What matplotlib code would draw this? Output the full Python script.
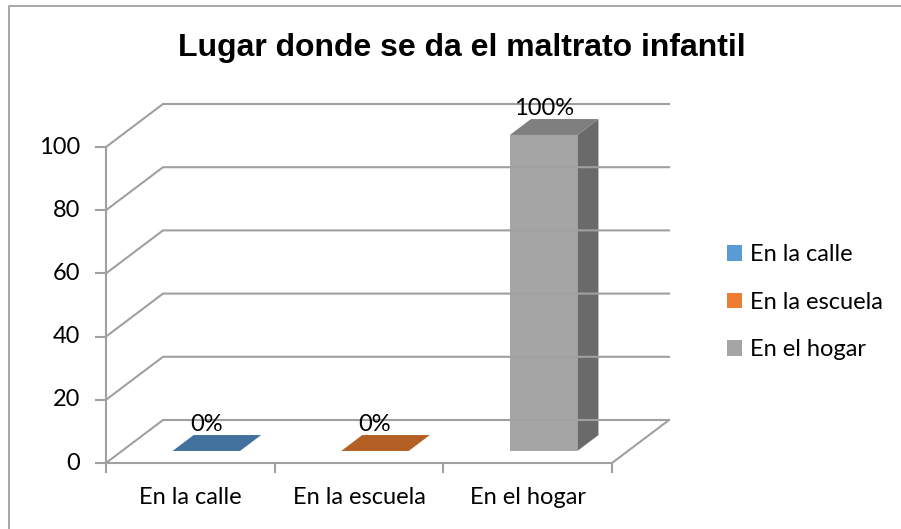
import matplotlib
matplotlib.use("Agg")
import matplotlib.pyplot as plt
from matplotlib.patches import Polygon, Patch
from matplotlib.lines import Line2D

# ---- data ----
categories = ["En la calle", "En la escuela", "En el hogar"]
values = [0, 0, 100]
labels = ["0%", "0%", "100%"]
yticks = [0, 20, 40, 60, 80, 100]
title = "Lugar donde se da el maltrato infantil"

# ---- style ----
front_cols = ["#5B9BD5", "#ED7D31", "#A5A5A5"]
top_cols = ["#41719C", "#B45F24", "#7F7F7F"]
side_cols = ["#3A6590", "#A0521E", "#6A6A6A"]
grid_col = "#A0A0A0"
FONT = "Lato"
FS = 17

W, H = 901, 529
fig = plt.figure(figsize=(W / 100, H / 100), dpi=100)
fig.patch.set_facecolor("white")

# border of chart area (only top and left edges are visible)
fig.add_artist(Line2D([8.5 / W, 8.5 / W, 1.0], [0.0, 1 - 5.5 / H, 1 - 5.5 / H], transform=fig.transFigure,
                      color="#A0A0A0", lw=1.3))

# front plane of the 3D box in pixels
x_left, x_right = 106, 612
y_zero, y_top = 463, 147
ax = fig.add_axes([x_left / W, (H - y_zero) / H, (x_right - x_left) / W, (y_zero - y_top) / H])
ax.set_xlim(-0.5, len(categories) - 0.5)
ax.set_ylim(0, 100)
ax.axis("off")

# depth offsets in data units
px_per_x = (x_right - x_left) / len(categories)
px_per_y = (y_zero - y_top) / 100
DX = 57 / px_per_x
DY = 43 / px_per_y

x0, x1 = -0.5, len(categories) - 0.5
lw = 1.5
# gridlines: side + back wall
for yv in yticks:
    ax.add_line(Line2D([x0, x0 + DX, x1 + DX], [yv, yv + DY, yv + DY], color=grid_col, lw=lw, clip_on=False))
# floor edges
ax.add_line(Line2D([x0, x1, x1 + DX], [0, 0, DY], color=grid_col, lw=lw, clip_on=False))
# front vertical axis
ax.add_line(Line2D([x0, x0], [0, 100], color=grid_col, lw=lw, clip_on=False))
# y ticks
tick_len_x = 10 / px_per_x
for yv in yticks:
    ax.add_line(Line2D([x0 - tick_len_x, x0], [yv, yv], color=grid_col, lw=lw, clip_on=False))
    ax.text(x0 - 26 / px_per_x, yv, str(yv), ha="right", va="center", fontsize=FS, family=FONT, color="black")
# category ticks
tick_len_y = 9 / px_per_y
for k in range(len(categories) + 1):
    xb = x0 + k
    ax.add_line(Line2D([xb, xb], [0, -tick_len_y], color=grid_col, lw=lw, clip_on=False))
for i, c in enumerate(categories):
    ax.text(i, -35 / px_per_y, c, ha="center", va="center", fontsize=FS, family=FONT, color="black")

# bars
f0, f1 = 0.28, 0.65
bw = 0.4
for i, v in enumerate(values):
    xl = i - bw / 2 + f0 * DX
    xr = i + bw / 2 + f0 * DX
    yb = f0 * DY
    ddx = (f1 - f0) * DX
    ddy = (f1 - f0) * DY
    if v > 0:
        ax.add_patch(Polygon([(xl, yb), (xr, yb), (xr, yb + v), (xl, yb + v)], closed=True,
                             facecolor=front_cols[i], edgecolor="none", clip_on=False))
        ax.add_patch(Polygon([(xr, yb), (xr + ddx, yb + ddy), (xr + ddx, yb + ddy + v), (xr, yb + v)], closed=True,
                             facecolor=side_cols[i], edgecolor="none", clip_on=False))
    ax.add_patch(Polygon([(xl, yb + v), (xr, yb + v), (xr + ddx, yb + v + ddy), (xl + ddx, yb + v + ddy)], closed=True,
                         facecolor=top_cols[i], edgecolor="none", clip_on=False))
    ax.text(i + f0 * DX, v + f1 * DY + 1.2, labels[i], ha="center", va="baseline", fontsize=FS, family=FONT,
            color="black")

# legend
handles = [Patch(facecolor=front_cols[i], edgecolor="none") for i in range(len(categories))]
leg = fig.legend(handles, categories, loc="upper left", bbox_to_anchor=(718 / W, 1 - 235 / H),
                 frameon=False, prop={"family": FONT, "size": FS}, handlelength=0.62, handleheight=0.62,
                 handletextpad=0.35, labelspacing=1.12, borderaxespad=0)

fig.text(462 / W, 1 - 56 / H, title, ha="center", va="baseline", fontsize=23, fontweight="bold",
         family="Liberation Sans", color="black")

fig.savefig("out.png", dpi=100)
